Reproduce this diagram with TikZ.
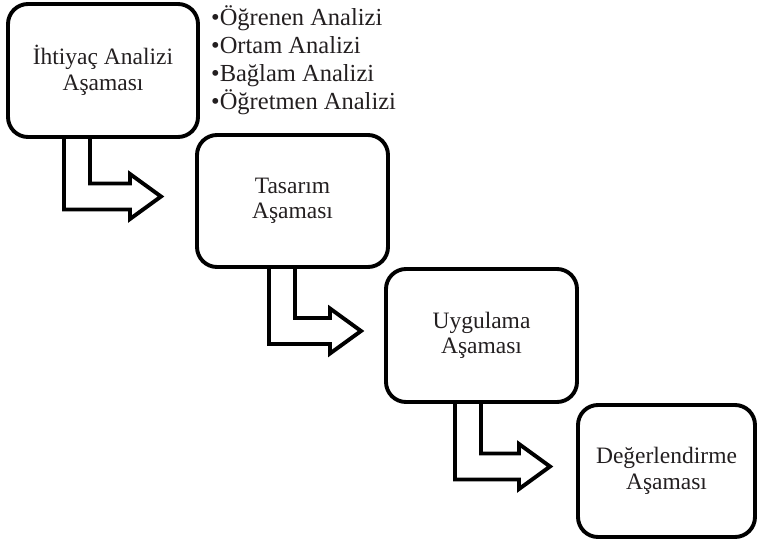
\documentclass[tikz,border=0pt]{standalone}
\usepackage{fontspec}
\setmainfont{Liberation Serif}
\usetikzlibrary{calc}
\definecolor{ink}{HTML}{231F20}
\tikzset{
  stagebox/.style={draw=black,line width=3.9pt,rounded corners=20pt,
                   minimum width=190pt,minimum height=132pt,
                   inner sep=0pt,outer sep=0pt,align=center,text=ink,
                   font=\fontsize{23.5}{25.5}\selectfont},
  blockarr/.style={draw=black,line width=3.9pt,line join=miter},
  notelist/.style={align=left,inner sep=0pt,text=ink,
                   font=\fontsize{24.5}{28}\selectfont}
}
% block arrow: source, target, shaft offset, gap before target
\newcommand{\stagearrow}[4]{%
  \draw[blockarr] let \p1=(#1.south west), \p2=(#2.west) in
    (\x1+#3pt,\y1) -- (\x1+#3pt,\y2-8.5pt) -- (\x2-#4pt-31pt,\y2-8.5pt)
    -- (\x2-#4pt-31pt,\y2-18pt) -- (\x2-#4pt,\y2+4.5pt)
    -- (\x2-#4pt-31pt,\y2+27pt) -- (\x2-#4pt-31pt,\y2+17.5pt)
    -- (\x1+#3pt+26pt,\y2+17.5pt) -- (\x1+#3pt+26pt,\y1);
}

\begin{document}
\begin{tikzpicture}[x=1pt,y=-1pt]
  \useasboundingbox (0,0) rectangle (758,541);

  \node[stagebox,minimum height=133pt] (ihtiyac) at (103,70.5) {İhtiyaç Analizi\\Aşaması};
  \node[stagebox,minimum width=191pt] (tasarim) at (292.5,201) {Tasarım\\Aşaması};
  \node[stagebox,minimum width=191pt,minimum height=133pt] (uygulama) at (481.5,335.5) {Uygulama\\Aşaması};
  \node[stagebox,minimum width=177pt] (degerlendirme) at (666.5,471) {Değerlendirme\\Aşaması};

  \node[notelist,anchor=north west] (analizler) at (211,5)
    {•Öğrenen Analizi\\•Ortam Analizi\\•Bağlam Analizi\\•Öğretmen Analizi};

  \stagearrow{ihtiyac}{tasarim}{56}{36}
  \stagearrow{tasarim}{uygulama}{72}{25}
  \stagearrow{uygulama}{degerlendirme}{69}{28}
\end{tikzpicture}
\end{document}
